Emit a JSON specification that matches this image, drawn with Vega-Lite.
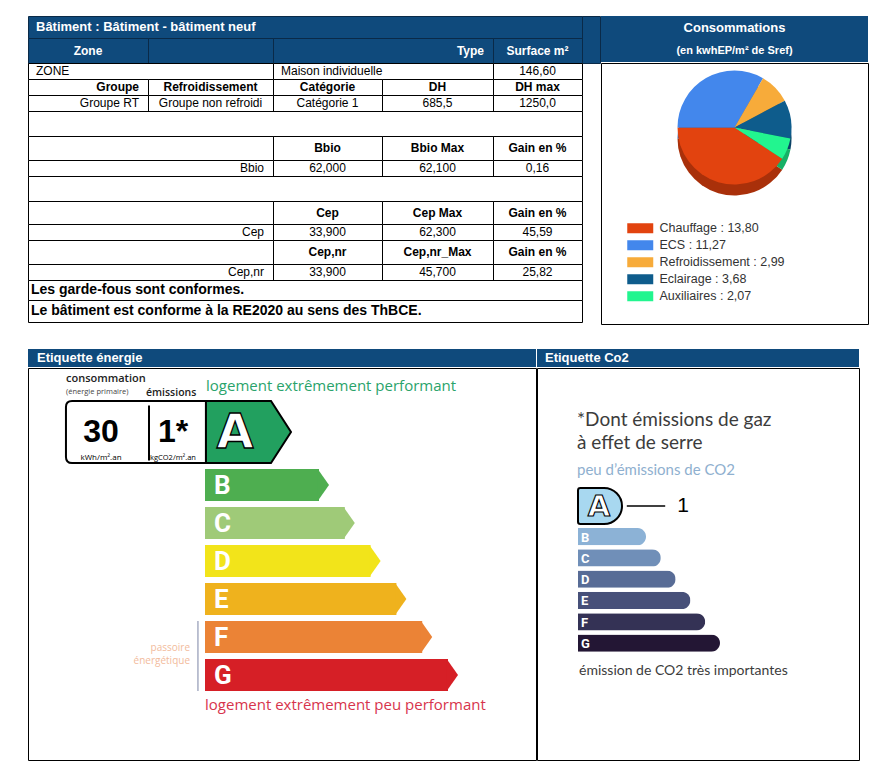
{
  "$schema": "https://vega.github.io/schema/vega-lite/v6.json",
  "background": "white",
  "padding": {"left": 27, "top": 16, "right": 0, "bottom": 0},
  "spacing": 24,
  "resolve": {"scale": {"color": "independent"}},
  "config": {"view": {"stroke": null}, "font": "Liberation Sans"},
  "datasets": {
    "dpe": [
      {"indicateur": "consommation", "valeur": 30, "affichage": "30", "unite": "kWh/m².an"},
      {"indicateur": "émissions", "valeur": 1, "affichage": "1*", "unite": "kgCO2/m².an"}
    ],
    "classes": [
      {"classe": "A", "rang": 1}, {"classe": "B", "rang": 2}, {"classe": "C", "rang": 3},
      {"classe": "D", "rang": 4}, {"classe": "E", "rang": 5}, {"classe": "F", "rang": 6},
      {"classe": "G", "rang": 7}
    ]
  },
  "vconcat": [
    {
      "hconcat": [
        {
          "width": 572,
          "height": 306,
          "data": {"values": [
            {"ligne": 0, "col": 0, "texte": "Bâtiment : Bâtiment - bâtiment neuf", "nature": "titre"},
            {"ligne": 1, "col": 0, "texte": "Zone", "nature": "entete"},
            {"ligne": 1, "col": 3, "texte": "Type", "nature": "entete_ligne"},
            {"ligne": 1, "col": 4, "texte": "Surface m²", "nature": "entete"},
            {"ligne": 2, "col": 0, "texte": "ZONE", "nature": "texte"},
            {"ligne": 2, "col": 2, "texte": "Maison individuelle", "nature": "texte"},
            {"ligne": 2, "col": 4, "texte": "146,60", "nature": "valeur"},
            {"ligne": 3, "col": 0, "texte": "Groupe", "nature": "intitule_ligne"},
            {"ligne": 3, "col": 1, "texte": "Refroidissement", "nature": "intitule"},
            {"ligne": 3, "col": 2, "texte": "Catégorie", "nature": "intitule"},
            {"ligne": 3, "col": 3, "texte": "DH", "nature": "intitule"},
            {"ligne": 3, "col": 4, "texte": "DH max", "nature": "intitule"},
            {"ligne": 4, "col": 0, "texte": "Groupe RT", "nature": "libelle"},
            {"ligne": 4, "col": 1, "texte": "Groupe non refroidi", "nature": "valeur"},
            {"ligne": 4, "col": 2, "texte": "Catégorie 1", "nature": "valeur"},
            {"ligne": 4, "col": 3, "texte": "685,5", "nature": "valeur"},
            {"ligne": 4, "col": 4, "texte": "1250,0", "nature": "valeur"},
            {"ligne": 6, "col": 2, "texte": "Bbio", "nature": "intitule"},
            {"ligne": 6, "col": 3, "texte": "Bbio Max", "nature": "intitule"},
            {"ligne": 6, "col": 4, "texte": "Gain en %", "nature": "intitule"},
            {"ligne": 7, "col": 1, "texte": "Bbio", "nature": "libelle"},
            {"ligne": 7, "col": 2, "texte": "62,000", "nature": "valeur"},
            {"ligne": 7, "col": 3, "texte": "62,100", "nature": "valeur"},
            {"ligne": 7, "col": 4, "texte": "0,16", "nature": "valeur"},
            {"ligne": 9, "col": 2, "texte": "Cep", "nature": "intitule"},
            {"ligne": 9, "col": 3, "texte": "Cep Max", "nature": "intitule"},
            {"ligne": 9, "col": 4, "texte": "Gain en %", "nature": "intitule"},
            {"ligne": 10, "col": 1, "texte": "Cep", "nature": "libelle"},
            {"ligne": 10, "col": 2, "texte": "33,900", "nature": "valeur"},
            {"ligne": 10, "col": 3, "texte": "62,300", "nature": "valeur"},
            {"ligne": 10, "col": 4, "texte": "45,59", "nature": "valeur"},
            {"ligne": 11, "col": 2, "texte": "Cep,nr", "nature": "intitule"},
            {"ligne": 11, "col": 3, "texte": "Cep,nr_Max", "nature": "intitule"},
            {"ligne": 11, "col": 4, "texte": "Gain en %", "nature": "intitule"},
            {"ligne": 12, "col": 1, "texte": "Cep,nr", "nature": "libelle"},
            {"ligne": 12, "col": 2, "texte": "33,900", "nature": "valeur"},
            {"ligne": 12, "col": 3, "texte": "45,700", "nature": "valeur"},
            {"ligne": 12, "col": 4, "texte": "25,82", "nature": "valeur"},
            {"ligne": 13, "col": 0, "texte": "Les garde-fous sont conformes.", "nature": "conclusion"},
            {"ligne": 14, "col": 0, "texte": "Le bâtiment est conforme à la RE2020 au sens des ThBCE.", "nature": "conclusion"}
          ]},
          "layer": [
            {
              "data": {"values": [
                {"r0": 0, "r1": 1, "c0": 0, "c1": 5, "partie": "entete"},
                {"r0": 0, "r1": 2, "c0": 5, "c1": 6, "partie": "entete"},
                {"r0": 1, "r1": 2, "c0": 0, "c1": 1, "partie": "entete"},
                {"r0": 1, "r1": 2, "c0": 1, "c1": 2, "partie": "entete"},
                {"r0": 1, "r1": 2, "c0": 2, "c1": 4, "partie": "entete"},
                {"r0": 1, "r1": 2, "c0": 4, "c1": 5, "partie": "entete"},
                {"r0": 2, "r1": 3, "c0": 0, "c1": 2, "partie": "corps"},
                {"r0": 2, "r1": 3, "c0": 2, "c1": 4, "partie": "corps"},
                {"r0": 2, "r1": 3, "c0": 4, "c1": 5, "partie": "corps"},
                {"r0": 3, "r1": 4, "c0": 0, "c1": 1, "partie": "corps"},
                {"r0": 3, "r1": 4, "c0": 1, "c1": 2, "partie": "corps"},
                {"r0": 3, "r1": 4, "c0": 2, "c1": 3, "partie": "corps"},
                {"r0": 3, "r1": 4, "c0": 3, "c1": 4, "partie": "corps"},
                {"r0": 3, "r1": 4, "c0": 4, "c1": 5, "partie": "corps"},
                {"r0": 4, "r1": 5, "c0": 0, "c1": 1, "partie": "corps"},
                {"r0": 4, "r1": 5, "c0": 1, "c1": 2, "partie": "corps"},
                {"r0": 4, "r1": 5, "c0": 2, "c1": 3, "partie": "corps"},
                {"r0": 4, "r1": 5, "c0": 3, "c1": 4, "partie": "corps"},
                {"r0": 4, "r1": 5, "c0": 4, "c1": 5, "partie": "corps"},
                {"r0": 5, "r1": 6, "c0": 0, "c1": 5, "partie": "corps"},
                {"r0": 6, "r1": 7, "c0": 0, "c1": 2, "partie": "corps"},
                {"r0": 6, "r1": 7, "c0": 2, "c1": 3, "partie": "corps"},
                {"r0": 6, "r1": 7, "c0": 3, "c1": 4, "partie": "corps"},
                {"r0": 6, "r1": 7, "c0": 4, "c1": 5, "partie": "corps"},
                {"r0": 7, "r1": 8, "c0": 0, "c1": 2, "partie": "corps"},
                {"r0": 7, "r1": 8, "c0": 2, "c1": 3, "partie": "corps"},
                {"r0": 7, "r1": 8, "c0": 3, "c1": 4, "partie": "corps"},
                {"r0": 7, "r1": 8, "c0": 4, "c1": 5, "partie": "corps"},
                {"r0": 8, "r1": 9, "c0": 0, "c1": 5, "partie": "corps"},
                {"r0": 9, "r1": 10, "c0": 0, "c1": 2, "partie": "corps"},
                {"r0": 9, "r1": 10, "c0": 2, "c1": 3, "partie": "corps"},
                {"r0": 9, "r1": 10, "c0": 3, "c1": 4, "partie": "corps"},
                {"r0": 9, "r1": 10, "c0": 4, "c1": 5, "partie": "corps"},
                {"r0": 10, "r1": 11, "c0": 0, "c1": 2, "partie": "corps"},
                {"r0": 10, "r1": 11, "c0": 2, "c1": 3, "partie": "corps"},
                {"r0": 10, "r1": 11, "c0": 3, "c1": 4, "partie": "corps"},
                {"r0": 10, "r1": 11, "c0": 4, "c1": 5, "partie": "corps"},
                {"r0": 11, "r1": 12, "c0": 0, "c1": 2, "partie": "corps"},
                {"r0": 11, "r1": 12, "c0": 2, "c1": 3, "partie": "corps"},
                {"r0": 11, "r1": 12, "c0": 3, "c1": 4, "partie": "corps"},
                {"r0": 11, "r1": 12, "c0": 4, "c1": 5, "partie": "corps"},
                {"r0": 12, "r1": 13, "c0": 0, "c1": 2, "partie": "corps"},
                {"r0": 12, "r1": 13, "c0": 2, "c1": 3, "partie": "corps"},
                {"r0": 12, "r1": 13, "c0": 3, "c1": 4, "partie": "corps"},
                {"r0": 12, "r1": 13, "c0": 4, "c1": 5, "partie": "corps"},
                {"r0": 13, "r1": 14, "c0": 0, "c1": 5, "partie": "corps"},
                {"r0": 14, "r1": 15, "c0": 0, "c1": 5, "partie": "corps"}
              ]},
              "mark": {"type": "rect", "strokeWidth": 1},
              "encoding": {
                "x": {"field": "c0", "type": "quantitative", "scale": {"domain": [0, 1, 2, 3, 4, 5, 6], "range": [0.5, 120.5, 245.5, 354.5, 465.5, 554.5, 572.5], "nice": false, "zero": false}, "axis": null},
                "x2": {"field": "c1"},
                "y": {"field": "r0", "type": "quantitative", "scale": {"domain": [0, 1, 2, 3, 4, 5, 6, 7, 8, 9, 10, 11, 12, 13, 14, 15], "range": [0.5, 22.5, 47.5, 63.5, 79.5, 95.5, 120.5, 144.5, 160.5, 185.5, 208.5, 224.5, 248.5, 264.5, 284.5, 306.5], "nice": false, "zero": false}, "axis": null},
                "y2": {"field": "r1"},
                "fill": {"field": "partie", "type": "nominal", "scale": {"domain": ["entete", "corps"], "range": ["#0f4a7c", "#ffffff"]}, "legend": null},
                "stroke": {"field": "partie", "type": "nominal", "scale": {"domain": ["entete", "corps"], "range": ["#0a2a48", "#000000"]}, "legend": null}
              }
            },
            {
              "transform": [{"filter": "datum.nature === 'titre'"}],
              "mark": {"type": "text", "align": "left", "baseline": "middle", "fontSize": 13, "fontWeight": "bold", "color": "white"},
              "encoding": {
                "x": {"field": "col", "type": "quantitative", "scale": {"domain": [0, 1, 2, 3, 4], "range": [8, 128, 253, 362, 473], "nice": false, "zero": false}, "axis": null},
                "y": {"field": "ligne", "type": "quantitative", "scale": {"domain": [0, 1, 2, 3, 4, 5, 6, 7, 8, 9, 10, 11, 12, 13, 14], "range": [11, 34.5, 55, 71, 87, 107.5, 132, 152, 172.5, 196.5, 216, 236, 256, 274, 295], "nice": false, "zero": false}, "axis": null},
                "text": {"field": "texte"}
              }
            },
            {
              "transform": [{"filter": "datum.nature === 'entete'"}],
              "mark": {"type": "text", "align": "center", "baseline": "middle", "fontSize": 12, "fontWeight": "bold", "color": "white"},
              "encoding": {
                "x": {"field": "col", "type": "quantitative", "scale": {"domain": [0, 1, 2, 3, 4], "range": [60, 182.5, 299.5, 409.5, 509.5], "nice": false, "zero": false}, "axis": null},
                "y": {"field": "ligne", "type": "quantitative", "scale": {"domain": [0, 1, 2, 3, 4, 5, 6, 7, 8, 9, 10, 11, 12, 13, 14], "range": [11, 34.5, 55, 71, 87, 107.5, 132, 152, 172.5, 196.5, 216, 236, 256, 274, 295], "nice": false, "zero": false}, "axis": null},
                "text": {"field": "texte"}
              }
            },
            {
              "transform": [{"filter": "datum.nature === 'entete_ligne'"}],
              "mark": {"type": "text", "align": "right", "baseline": "middle", "fontSize": 12, "fontWeight": "bold", "color": "white"},
              "encoding": {
                "x": {"field": "col", "type": "quantitative", "scale": {"domain": [0, 1, 2, 3, 4], "range": [111, 236, 345, 456, 546], "nice": false, "zero": false}, "axis": null},
                "y": {"field": "ligne", "type": "quantitative", "scale": {"domain": [0, 1, 2, 3, 4, 5, 6, 7, 8, 9, 10, 11, 12, 13, 14], "range": [11, 34.5, 55, 71, 87, 107.5, 132, 152, 172.5, 196.5, 216, 236, 256, 274, 295], "nice": false, "zero": false}, "axis": null},
                "text": {"field": "texte"}
              }
            },
            {
              "transform": [{"filter": "datum.nature === 'texte'"}],
              "mark": {"type": "text", "align": "left", "baseline": "middle", "fontSize": 12, "color": "black"},
              "encoding": {
                "x": {"field": "col", "type": "quantitative", "scale": {"domain": [0, 1, 2, 3, 4], "range": [8, 128, 253, 362, 473], "nice": false, "zero": false}, "axis": null},
                "y": {"field": "ligne", "type": "quantitative", "scale": {"domain": [0, 1, 2, 3, 4, 5, 6, 7, 8, 9, 10, 11, 12, 13, 14], "range": [11, 34.5, 55, 71, 87, 107.5, 132, 152, 172.5, 196.5, 216, 236, 256, 274, 295], "nice": false, "zero": false}, "axis": null},
                "text": {"field": "texte"}
              }
            },
            {
              "transform": [{"filter": "datum.nature === 'valeur'"}],
              "mark": {"type": "text", "align": "center", "baseline": "middle", "fontSize": 12, "color": "black"},
              "encoding": {
                "x": {"field": "col", "type": "quantitative", "scale": {"domain": [0, 1, 2, 3, 4], "range": [60, 182.5, 299.5, 409.5, 509.5], "nice": false, "zero": false}, "axis": null},
                "y": {"field": "ligne", "type": "quantitative", "scale": {"domain": [0, 1, 2, 3, 4, 5, 6, 7, 8, 9, 10, 11, 12, 13, 14], "range": [11, 34.5, 55, 71, 87, 107.5, 132, 152, 172.5, 196.5, 216, 236, 256, 274, 295], "nice": false, "zero": false}, "axis": null},
                "text": {"field": "texte"}
              }
            },
            {
              "transform": [{"filter": "datum.nature === 'intitule'"}],
              "mark": {"type": "text", "align": "center", "baseline": "middle", "fontSize": 12, "fontWeight": "bold", "color": "black"},
              "encoding": {
                "x": {"field": "col", "type": "quantitative", "scale": {"domain": [0, 1, 2, 3, 4], "range": [60, 182.5, 299.5, 409.5, 509.5], "nice": false, "zero": false}, "axis": null},
                "y": {"field": "ligne", "type": "quantitative", "scale": {"domain": [0, 1, 2, 3, 4, 5, 6, 7, 8, 9, 10, 11, 12, 13, 14], "range": [11, 34.5, 55, 71, 87, 107.5, 132, 152, 172.5, 196.5, 216, 236, 256, 274, 295], "nice": false, "zero": false}, "axis": null},
                "text": {"field": "texte"}
              }
            },
            {
              "transform": [{"filter": "datum.nature === 'intitule_ligne'"}],
              "mark": {"type": "text", "align": "right", "baseline": "middle", "fontSize": 12, "fontWeight": "bold", "color": "black"},
              "encoding": {
                "x": {"field": "col", "type": "quantitative", "scale": {"domain": [0, 1, 2, 3, 4], "range": [111, 236, 345, 456, 546], "nice": false, "zero": false}, "axis": null},
                "y": {"field": "ligne", "type": "quantitative", "scale": {"domain": [0, 1, 2, 3, 4, 5, 6, 7, 8, 9, 10, 11, 12, 13, 14], "range": [11, 34.5, 55, 71, 87, 107.5, 132, 152, 172.5, 196.5, 216, 236, 256, 274, 295], "nice": false, "zero": false}, "axis": null},
                "text": {"field": "texte"}
              }
            },
            {
              "transform": [{"filter": "datum.nature === 'libelle'"}],
              "mark": {"type": "text", "align": "right", "baseline": "middle", "fontSize": 12, "color": "black"},
              "encoding": {
                "x": {"field": "col", "type": "quantitative", "scale": {"domain": [0, 1, 2, 3, 4], "range": [111, 236, 345, 456, 546], "nice": false, "zero": false}, "axis": null},
                "y": {"field": "ligne", "type": "quantitative", "scale": {"domain": [0, 1, 2, 3, 4, 5, 6, 7, 8, 9, 10, 11, 12, 13, 14], "range": [11, 34.5, 55, 71, 87, 107.5, 132, 152, 172.5, 196.5, 216, 236, 256, 274, 295], "nice": false, "zero": false}, "axis": null},
                "text": {"field": "texte"}
              }
            },
            {
              "transform": [{"filter": "datum.nature === 'conclusion'"}],
              "mark": {"type": "text", "align": "left", "baseline": "middle", "dx": -5, "fontSize": 14, "fontWeight": "bold", "color": "black"},
              "encoding": {
                "x": {"field": "col", "type": "quantitative", "scale": {"domain": [0, 1, 2, 3, 4], "range": [8, 128, 253, 362, 473], "nice": false, "zero": false}, "axis": null},
                "y": {"field": "ligne", "type": "quantitative", "scale": {"domain": [0, 1, 2, 3, 4, 5, 6, 7, 8, 9, 10, 11, 12, 13, 14], "range": [11, 34.5, 55, 71, 87, 107.5, 132, 152, 172.5, 196.5, 216, 236, 256, 274, 295], "nice": false, "zero": false}, "axis": null},
                "text": {"field": "texte"}
              }
            }
          ],
          "resolve": {"scale": {"x": "independent", "y": "independent"}}
        },
        {
          "vconcat": [
            {
              "width": 267,
              "height": 46,
              "view": {"fill": "#0f4a7c", "stroke": null},
              "data": {"values": [
                {"ligne": "titre", "texte": "Consommations"},
                {"ligne": "unite", "texte": "(en kwhEP/m² de Sref)"}
              ]},
              "layer": [
                {
                  "transform": [{"filter": "datum.ligne === 'titre'"}],
                  "mark": {"type": "text", "color": "white", "fontWeight": "bold", "fontSize": 13, "baseline": "middle"},
                  "encoding": {
                    "y": {"field": "ligne", "type": "nominal", "scale": {"type": "point", "domain": ["titre", "unite"], "range": [0, 46], "padding": 0.5}, "axis": null},
                    "text": {"field": "texte"}
                  }
                },
                {
                  "transform": [{"filter": "datum.ligne === 'unite'"}],
                  "mark": {"type": "text", "color": "white", "fontWeight": "bold", "fontSize": 11, "baseline": "middle"},
                  "encoding": {
                    "y": {"field": "ligne", "type": "nominal"},
                    "text": {"field": "texte"}
                  }
                }
              ]
            },
            {
              "width": 267,
              "height": 261,
              "view": {"stroke": "black", "strokeWidth": 1},
              "data": {"values": [
                {"poste": "Chauffage", "conso": 13.80, "libelle": "Chauffage : 13,80", "ord": 1},
                {"poste": "ECS", "conso": 11.27, "libelle": "ECS : 11,27", "ord": 2},
                {"poste": "Refroidissement", "conso": 2.99, "libelle": "Refroidissement : 2,99", "ord": 3},
                {"poste": "Eclairage", "conso": 3.68, "libelle": "Eclairage : 3,68", "ord": 4},
                {"poste": "Auxiliaires", "conso": 2.07, "libelle": "Auxiliaires : 2,07", "ord": 5}
              ]},
              "layer": [
                {
                  "mark": {"type": "arc", "radius": 57, "yOffset": -55},
                  "encoding": {
                    "theta": {"field": "conso", "type": "quantitative", "stack": true, "scale": {"range": [2.1485, 8.4317]}},
                    "order": {"field": "ord", "type": "quantitative"},
                    "color": {"field": "libelle", "type": "nominal", "scale": {"domain": ["Chauffage : 13,80", "ECS : 11,27", "Refroidissement : 2,99", "Eclairage : 3,68", "Auxiliaires : 2,07"], "range": ["#a9300a", "#2f62ad", "#b57d2a", "#0a4266", "#16b066"]}, "legend": null}
                  }
                },
                {
                  "mark": {"type": "arc", "radius": 57, "yOffset": -66},
                  "encoding": {
                    "theta": {"field": "conso", "type": "quantitative", "stack": true},
                    "order": {"field": "ord", "type": "quantitative"},
                    "color": {
                      "field": "libelle", "type": "nominal",
                      "scale": {"domain": ["Chauffage : 13,80", "ECS : 11,27", "Refroidissement : 2,99", "Eclairage : 3,68", "Auxiliaires : 2,07"], "range": ["#e2430f", "#4387ec", "#f7ab3a", "#0e5c8c", "#22f58f"]},
                      "legend": {
                        "orient": "none", "legendX": 33, "legendY": 159, "title": null, "padding": 0,
                        "symbolType": "M-2.6,-1H2.6V1H-2.6Z", "symbolSize": 100, "symbolStrokeWidth": 0,
                        "labelFont": "Liberation Sans", "labelFontSize": 12.5, "labelColor": "#333333",
                        "labelOffset": 13, "rowPadding": 4, "labelLimit": 300
                      }
                    }
                  }
                }
              ],
              "resolve": {"scale": {"color": "independent"}}
            }
          ],
          "spacing": 0,
          "resolve": {"scale": {"color": "independent"}}
        }
      ],
      "spacing": -3,
      "resolve": {"scale": {"color": "independent"}}
    },
    {
      "hconcat": [
        {
          "vconcat": [
            {
              "width": 508,
              "height": 18,
              "view": {"fill": "#0f4a7c", "stroke": null},
              "data": {"values": [{"texte": "Etiquette énergie"}]},
              "mark": {"type": "text", "color": "white", "fontWeight": "bold", "fontSize": 13, "align": "left", "baseline": "middle", "dx": 9},
              "encoding": {
                "x": {"datum": 0, "type": "quantitative", "scale": {"domain": [0, 100]}, "axis": null},
                "text": {"field": "texte"}
              }
            },
            {
              "width": 508,
              "height": 392,
              "view": {"stroke": "black", "strokeWidth": 1},
              "data": {"name": "classes"},
              "layer": [
                {
                  "transform": [{"filter": "datum.rang > 1"}],
                  "mark": {"type": "bar"},
                  "encoding": {
                    "x": {"field": "rang", "type": "quantitative", "scale": {"domain": [0, 1, 7], "range": [177, 265.2, 420], "nice": false}, "axis": null},
                    "y": {"field": "classe", "type": "nominal", "scale": {"type": "band", "domain": ["A", "B", "C", "D", "E", "F", "G"], "range": [63, 323], "paddingInner": 0.158, "paddingOuter": 0}, "axis": null},
                    "color": {"field": "classe", "type": "nominal", "scale": {"domain": ["A", "B", "C", "D", "E", "F", "G"], "range": ["#22a05f", "#4eae50", "#9fca78", "#f2e41a", "#efb21d", "#eb8336", "#d61f26"]}, "legend": null}
                  }
                },
                {
                  "transform": [{"filter": "datum.rang > 1"}],
                  "mark": {"type": "point", "shape": "M-0.08,-1L0.625,0L-0.08,1Z", "size": 1024, "filled": true, "opacity": 1, "strokeWidth": 0},
                  "encoding": {
                    "x": {"field": "rang", "type": "quantitative"},
                    "y": {"field": "classe", "type": "nominal"},
                    "color": {"field": "classe", "type": "nominal", "legend": null}
                  }
                },
                {
                  "transform": [{"filter": "datum.rang > 1"}],
                  "mark": {"type": "text", "align": "left", "baseline": "middle", "dx": 9, "dy": 1, "font": "Roboto", "fontSize": 26, "fontWeight": "bold", "color": "white"},
                  "encoding": {
                    "x": {"datum": 0, "type": "quantitative"},
                    "y": {"field": "classe", "type": "nominal"},
                    "text": {"field": "classe"}
                  }
                },
                {
                  "transform": [{"filter": "datum.rang == 1"}],
                  "mark": {"type": "point", "shape": "M-8.31,-2.875H0.06V1H-8.31Q-8.69,1 -8.69,0.62V-2.5Q-8.69,-2.875 -8.31,-2.875ZM-3.5,-2.6V0.85", "size": 1024, "filled": true, "fill": "white", "stroke": "black", "strokeWidth": 2, "opacity": 1},
                  "encoding": {
                    "x": {"datum": 0, "type": "quantitative"},
                    "y": {"field": "classe", "type": "nominal"}
                  }
                },
                {
                  "transform": [{"filter": "datum.rang == 1"}],
                  "mark": {"type": "point", "shape": "M0.06,-2.875H4.125L5.375,-0.94L4.125,1H0.06Z", "size": 1024, "filled": true, "fill": "#22a05f", "stroke": "black", "strokeWidth": 2, "opacity": 1},
                  "encoding": {
                    "x": {"datum": 0, "type": "quantitative"},
                    "y": {"field": "classe", "type": "nominal"}
                  }
                },
                {
                  "transform": [{"filter": "datum.rang == 1"}],
                  "mark": {"type": "text", "align": "center", "baseline": "middle", "dx": 30, "dy": -13, "font": "DejaVu Sans", "fontSize": 48, "fontWeight": "bold", "fill": "white", "stroke": "black", "strokeWidth": 1.3},
                  "encoding": {
                    "x": {"datum": 0, "type": "quantitative"},
                    "y": {"field": "classe", "type": "nominal"},
                    "text": {"field": "classe"}
                  }
                },
                {
                  "data": {"name": "dpe"},
                  "transform": [{"filter": "datum.indicateur === 'consommation'"}],
                  "mark": {"type": "text", "align": "center", "baseline": "middle", "dx": -104, "dy": -15, "fontSize": 32, "fontWeight": "bold", "color": "black"},
                  "encoding": {
                    "x": {"datum": 0, "type": "quantitative"},
                    "y": {"datum": "A", "type": "nominal"},
                    "text": {"field": "affichage"}
                  }
                },
                {
                  "data": {"name": "dpe"},
                  "transform": [{"filter": "datum.indicateur === 'émissions'"}],
                  "mark": {"type": "text", "align": "center", "baseline": "middle", "dx": -32, "dy": -15, "fontSize": 32, "fontWeight": "bold", "color": "black"},
                  "encoding": {
                    "x": {"datum": 0, "type": "quantitative"},
                    "y": {"datum": "A", "type": "nominal"},
                    "text": {"field": "affichage"}
                  }
                },
                {
                  "data": {"name": "dpe"},
                  "transform": [{"filter": "datum.indicateur === 'consommation'"}],
                  "mark": {"type": "text", "align": "center", "baseline": "middle", "dx": -104, "dy": 11, "fontSize": 8, "font": "Open Sans", "color": "black"},
                  "encoding": {
                    "x": {"datum": 0, "type": "quantitative"},
                    "y": {"datum": "A", "type": "nominal"},
                    "text": {"field": "unite"}
                  }
                },
                {
                  "data": {"name": "dpe"},
                  "transform": [{"filter": "datum.indicateur === 'émissions'"}],
                  "mark": {"type": "text", "align": "center", "baseline": "middle", "dx": -32, "dy": 11, "fontSize": 7.5, "font": "Open Sans", "color": "black"},
                  "encoding": {
                    "x": {"datum": 0, "type": "quantitative"},
                    "y": {"datum": "A", "type": "nominal"},
                    "text": {"field": "unite"}
                  }
                },
                {
                  "data": {"values": [{"texte": "consommation"}]},
                  "mark": {"type": "text", "align": "left", "baseline": "middle", "dx": -139, "dy": -68, "fontSize": 11, "fontWeight": 600, "font": "Open Sans", "color": "#222222"},
                  "encoding": {
                    "x": {"datum": 0, "type": "quantitative"},
                    "y": {"datum": "A", "type": "nominal"},
                    "text": {"field": "texte"}
                  }
                },
                {
                  "data": {"values": [{"texte": "(énergie primaire)"}]},
                  "mark": {"type": "text", "align": "left", "baseline": "middle", "dx": -139, "dy": -55, "fontSize": 7.5, "font": "Open Sans", "color": "#444444"},
                  "encoding": {
                    "x": {"datum": 0, "type": "quantitative"},
                    "y": {"datum": "A", "type": "nominal"},
                    "text": {"field": "texte"}
                  }
                },
                {
                  "data": {"values": [{"texte": "émissions"}]},
                  "mark": {"type": "text", "align": "left", "baseline": "middle", "dx": -59, "dy": -54, "fontSize": 10.5, "fontWeight": 600, "font": "Open Sans", "color": "#222222"},
                  "encoding": {
                    "x": {"datum": 0, "type": "quantitative"},
                    "y": {"datum": "A", "type": "nominal"},
                    "text": {"field": "texte"}
                  }
                },
                {
                  "data": {"values": [{"texte": "logement extrêmement performant"}]},
                  "mark": {"type": "text", "align": "left", "baseline": "middle", "dx": 1, "dy": -61, "fontSize": 15, "font": "Open Sans", "color": "#2aa36b"},
                  "encoding": {
                    "x": {"datum": 0, "type": "quantitative"},
                    "y": {"datum": "A", "type": "nominal"},
                    "text": {"field": "texte"}
                  }
                },
                {
                  "data": {"values": [{"texte": "passoire énergétique"}]},
                  "mark": {"type": "text", "align": "right", "baseline": "middle", "dx": -15, "dy": -27, "fontSize": 10, "font": "Open Sans", "color": "#f2bb9c", "lineBreak": " ", "lineHeight": 13},
                  "encoding": {
                    "x": {"datum": 0, "type": "quantitative"},
                    "y": {"datum": "G", "type": "nominal"},
                    "text": {"field": "texte"}
                  }
                },
                {
                  "transform": [{"filter": "datum.rang == 7"}],
                  "mark": {"type": "point", "shape": "M-0.44,-3.375V1", "size": 1024, "filled": false, "color": "#7b84a6", "strokeWidth": 1, "opacity": 1},
                  "encoding": {
                    "x": {"datum": 0, "type": "quantitative"},
                    "y": {"field": "classe", "type": "nominal"}
                  }
                },
                {
                  "data": {"values": [{"texte": "logement extrêmement peu performant"}]},
                  "mark": {"type": "text", "align": "left", "baseline": "middle", "dx": 0, "dy": 30, "fontSize": 15, "font": "Open Sans", "color": "#d7344c"},
                  "encoding": {
                    "x": {"datum": 0, "type": "quantitative"},
                    "y": {"datum": "G", "type": "nominal"},
                    "text": {"field": "texte"}
                  }
                }
              ]
            }
          ],
          "spacing": 0,
          "resolve": {"scale": {"color": "independent"}}
        },
        {
          "vconcat": [
            {
              "width": 322,
              "height": 18,
              "view": {"fill": "#0f4a7c", "stroke": null},
              "data": {"values": [{"texte": "Etiquette Co2"}]},
              "mark": {"type": "text", "color": "white", "fontWeight": "bold", "fontSize": 13, "align": "left", "baseline": "middle", "dx": 8},
              "encoding": {
                "x": {"datum": 0, "type": "quantitative", "scale": {"domain": [0, 100]}, "axis": null},
                "text": {"field": "texte"}
              }
            },
            {
              "width": 322,
              "height": 392,
              "view": {"stroke": "black", "strokeWidth": 1},
              "data": {"name": "classes"},
              "layer": [
                {
                  "transform": [{"filter": "datum.rang > 1"}],
                  "mark": {"type": "bar", "cornerRadiusEnd": 8.6},
                  "encoding": {
                    "x": {"field": "rang", "type": "quantitative", "scale": {"domain": [0, 1, 7], "range": [41, 94.2, 183], "nice": false}, "axis": null},
                    "y": {"field": "classe", "type": "nominal", "scale": {"type": "band", "domain": ["A", "B", "C", "D", "E", "F", "G"], "range": [138.7, 283.7], "paddingInner": 0.19, "paddingOuter": 0}, "axis": null},
                    "color": {"field": "classe", "type": "nominal", "scale": {"domain": ["A", "B", "C", "D", "E", "F", "G"], "range": ["#a8d8f0", "#8cb2d6", "#708fb8", "#586c96", "#475079", "#343255", "#231634"]}, "legend": null}
                  }
                },
                {
                  "transform": [{"filter": "datum.rang > 1"}],
                  "mark": {"type": "text", "align": "left", "baseline": "middle", "dx": 3, "dy": 1, "font": "Roboto", "fontSize": 13, "fontWeight": "bold", "color": "white"},
                  "encoding": {
                    "x": {"datum": 0, "type": "quantitative"},
                    "y": {"field": "classe", "type": "nominal"},
                    "text": {"field": "classe"}
                  }
                },
                {
                  "transform": [{"filter": "datum.rang == 1"}],
                  "mark": {"type": "point", "shape": "M0.3,-3.41H3.25A2.25,2.25 0 0 1 3.25,1.09H0.3Q0,1.09 0,0.8V-3.11Q0,-3.41 0.3,-3.41Z", "size": 256, "filled": true, "fill": "#a8d8f0", "stroke": "black", "strokeWidth": 2, "opacity": 1},
                  "encoding": {
                    "x": {"datum": 0, "type": "quantitative"},
                    "y": {"field": "classe", "type": "nominal"}
                  }
                },
                {
                  "transform": [{"filter": "datum.rang == 1"}],
                  "mark": {"type": "point", "shape": "M6.1,-1.17H10.9", "size": 256, "filled": false, "color": "black", "strokeWidth": 1.5, "opacity": 1},
                  "encoding": {
                    "x": {"datum": 0, "type": "quantitative"},
                    "y": {"field": "classe", "type": "nominal"}
                  }
                },
                {
                  "transform": [{"filter": "datum.rang == 1"}],
                  "mark": {"type": "text", "align": "center", "baseline": "middle", "dx": 21, "dy": -8, "font": "DejaVu Sans", "fontSize": 29, "fontWeight": "bold", "fill": "white", "stroke": "black", "strokeWidth": 1.1},
                  "encoding": {
                    "x": {"datum": 0, "type": "quantitative"},
                    "y": {"field": "classe", "type": "nominal"},
                    "text": {"field": "classe"}
                  }
                },
                {
                  "data": {"name": "dpe"},
                  "transform": [{"filter": "datum.indicateur === 'émissions'"}],
                  "mark": {"type": "text", "align": "center", "baseline": "middle", "dx": 105, "dy": -9.3, "fontSize": 21, "color": "black"},
                  "encoding": {
                    "x": {"datum": 0, "type": "quantitative"},
                    "y": {"datum": "A", "type": "nominal"},
                    "text": {"field": "valeur", "type": "quantitative"}
                  }
                },
                {
                  "data": {"values": [{"texte": "*Dont émissions de gaz\nà effet de serre"}]},
                  "mark": {"type": "text", "align": "left", "baseline": "middle", "dx": -1, "dy": -95, "fontSize": 19, "font": "Lato", "color": "#3c3c3c", "lineBreak": "\n", "lineHeight": 23},
                  "encoding": {
                    "x": {"datum": 0, "type": "quantitative"},
                    "y": {"datum": "A", "type": "nominal"},
                    "text": {"field": "texte"}
                  }
                },
                {
                  "data": {"values": [{"texte": "peu d’émissions de CO2"}]},
                  "mark": {"type": "text", "align": "left", "baseline": "middle", "dx": -1, "dy": -45, "fontSize": 15, "font": "Lato", "color": "#8fb0cf"},
                  "encoding": {
                    "x": {"datum": 0, "type": "quantitative"},
                    "y": {"datum": "A", "type": "nominal"},
                    "text": {"field": "texte"}
                  }
                },
                {
                  "data": {"values": [{"texte": "émission de CO2 très importantes"}]},
                  "mark": {"type": "text", "align": "left", "baseline": "middle", "dx": 1, "dy": 28, "fontSize": 14, "font": "Lato", "color": "#3c3c3c"},
                  "encoding": {
                    "x": {"datum": 0, "type": "quantitative"},
                    "y": {"datum": "G", "type": "nominal"},
                    "text": {"field": "texte"}
                  }
                }
              ]
            }
          ],
          "spacing": 0,
          "resolve": {"scale": {"color": "independent"}}
        }
      ],
      "spacing": -3,
      "resolve": {"scale": {"color": "independent"}}
    }
  ]
}
